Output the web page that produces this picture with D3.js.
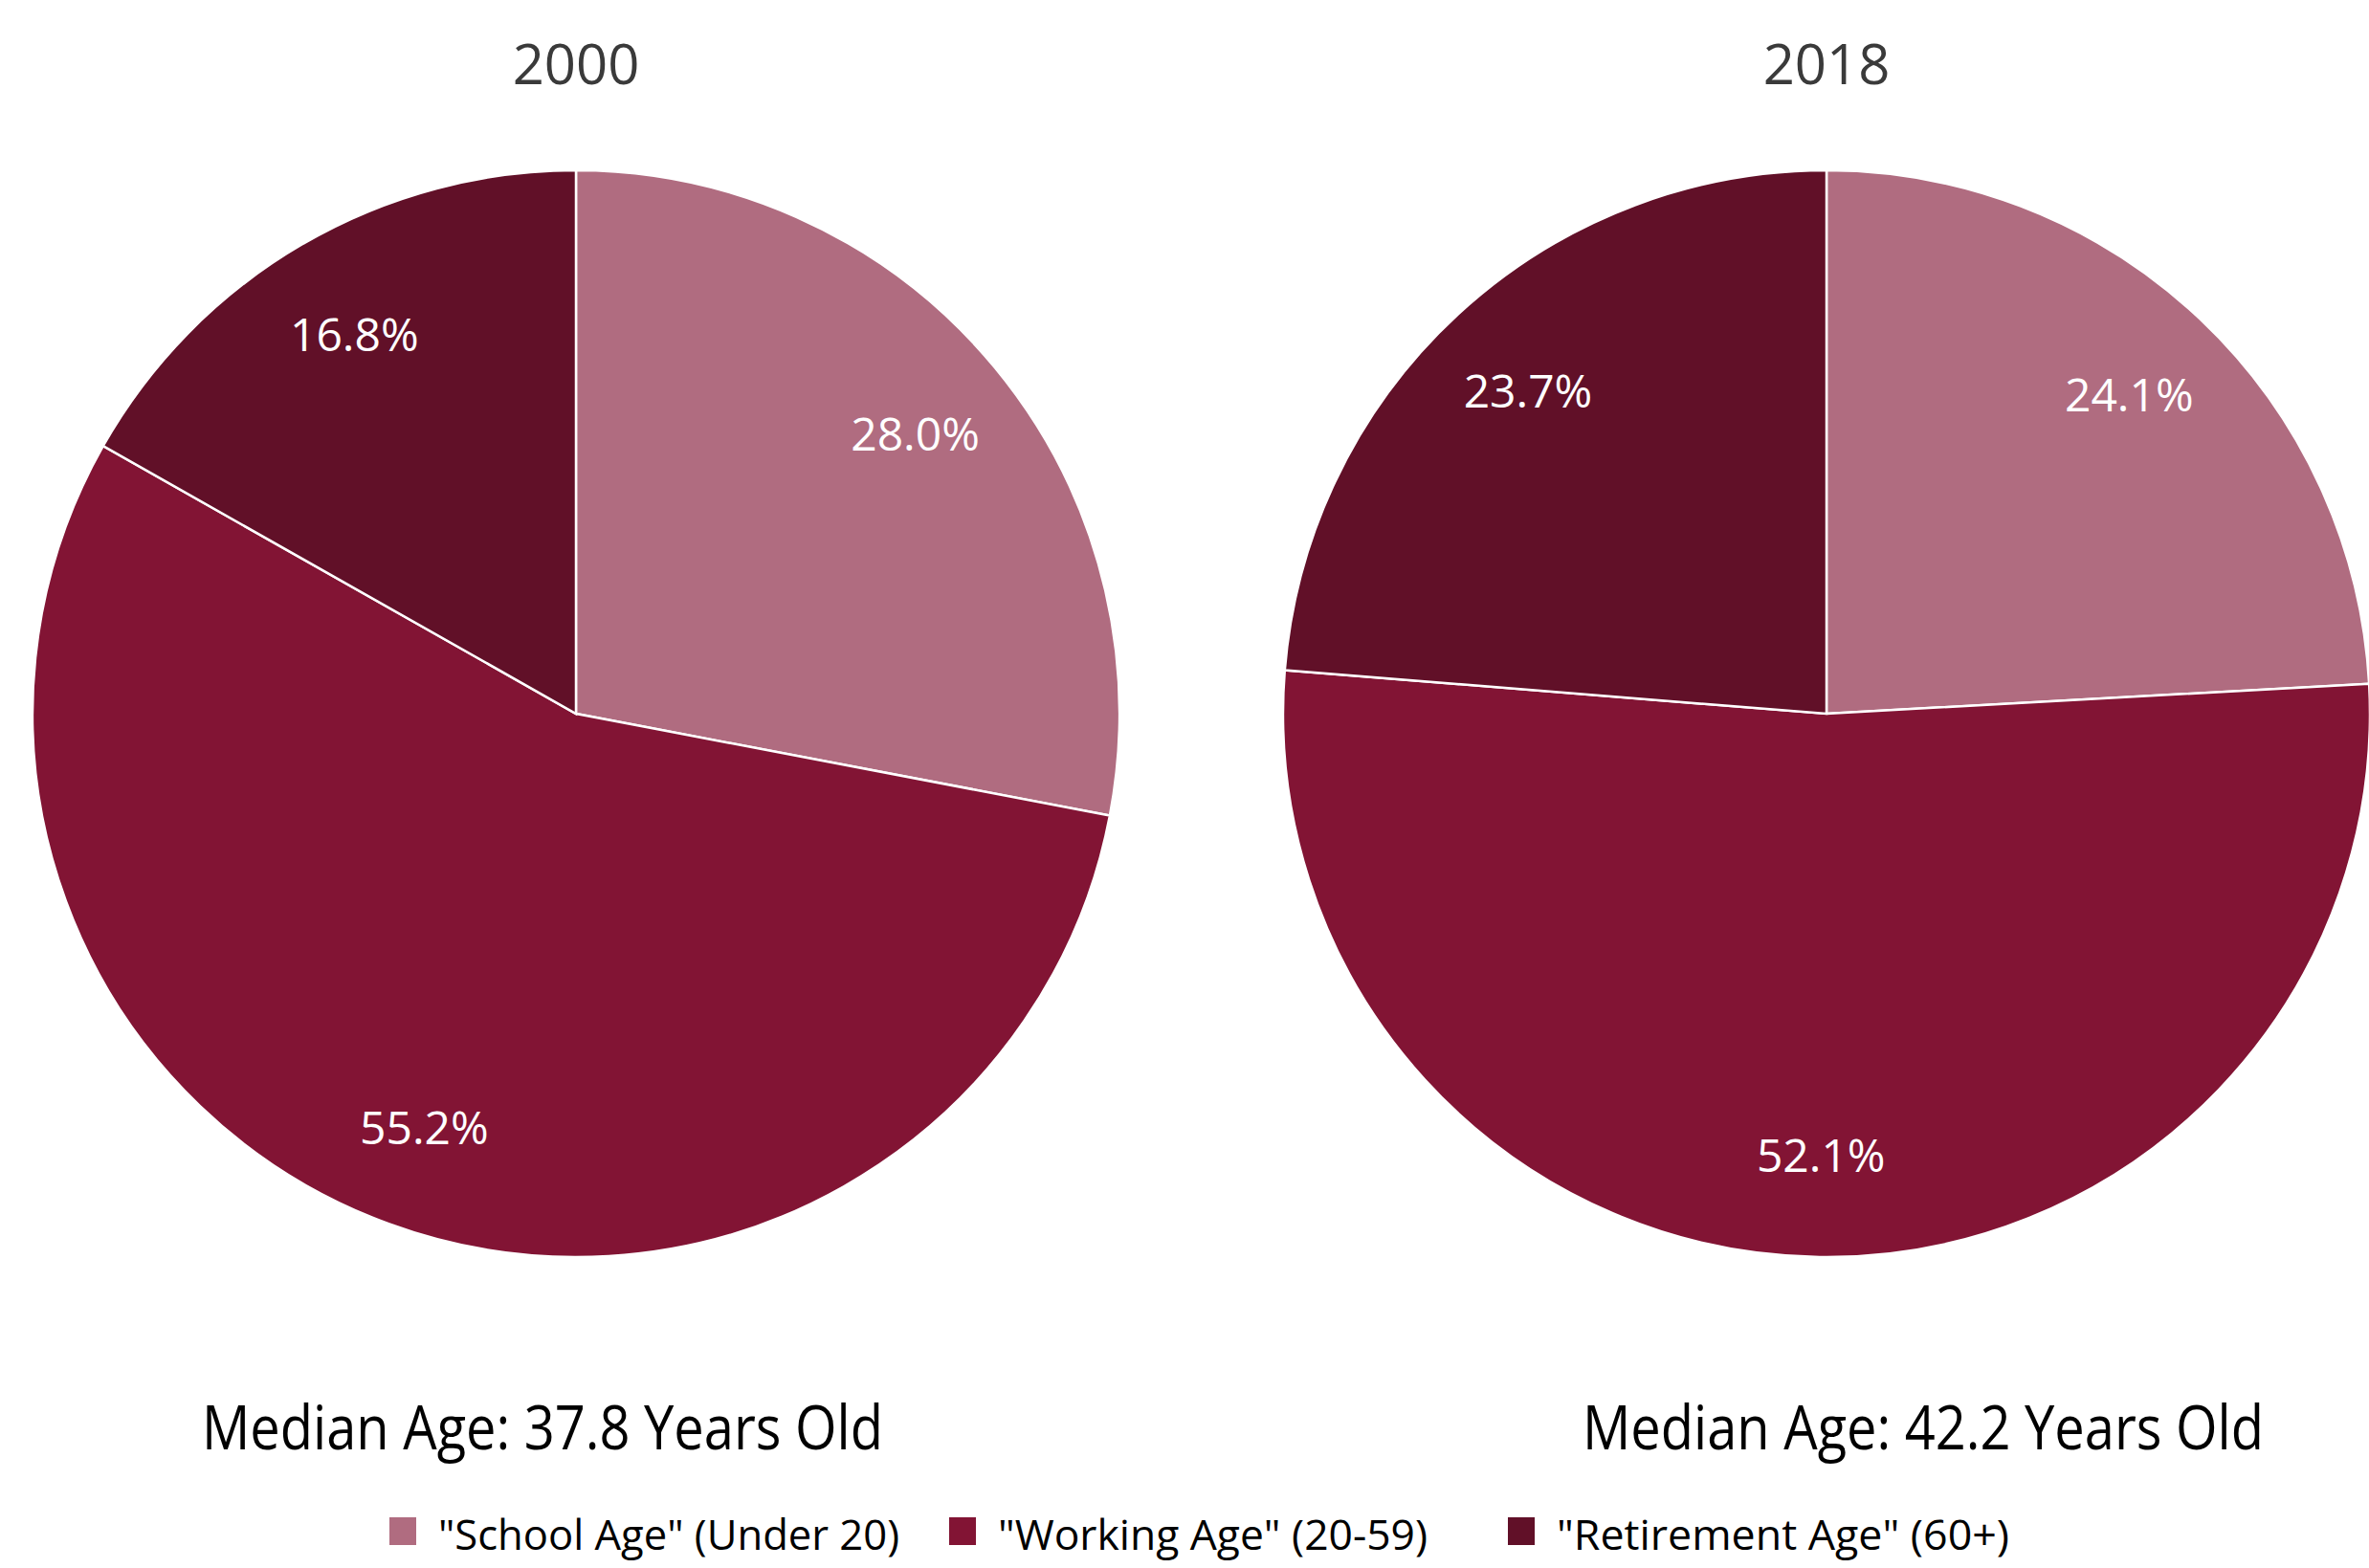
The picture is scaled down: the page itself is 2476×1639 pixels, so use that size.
<!DOCTYPE html>
<html>
<head>
<meta charset="utf-8">
<script src="https://cdn.jsdelivr.net/npm/d3@7"></script>
<style>
  body { margin: 0; background: #fff; }
  svg { display: block; font-family: "Open Sans", sans-serif; }
</style>
</head>
<body>
<svg id="chart" width="2476" height="1639"></svg>
<script>
const categories = ['"School Age" (Under 20)', '"Working Age" (20-59)', '"Retirement Age" (60+)'];
const years = ["2000", "2018"];
const shares2000 = [28.0, 55.2, 16.8];
const shares2018 = [24.1, 52.1, 23.7];
const medianAges = [37.8, 42.2];
const colors = ["#b06c80", "#821434", "#611028"];

const svg = d3.select("#chart");
const color = d3.scaleOrdinal().domain(categories).range(colors);

const radius = 568;
const centers = [602, 1909];
const centerY = 746;
const medianX = [567, 2010];

const pie = d3.pie().sort(null).value((d) => d.value);
const arc = d3.arc().innerRadius(0).outerRadius(radius);
const labelArc = d3.arc().innerRadius(radius * 0.81).outerRadius(radius * 0.81);

[shares2000, shares2018].forEach((shares, i) => {
  const data = shares.map((v, k) => ({ cat: categories[k], value: v }));
  const g = svg.append("g").attr("transform", `translate(${centers[i]},${centerY})`);

  g.selectAll("path")
    .data(pie(data))
    .enter()
    .append("path")
    .attr("d", arc)
    .style("fill", (d) => color(d.data.cat))
    .style("stroke", "#fff")
    .style("stroke-width", "2.5");

  g.selectAll("text")
    .data(pie(data))
    .enter()
    .append("text")
    .attr("transform", (d) => `translate(${labelArc.centroid(d)})`)
    .attr("text-anchor", "middle")
    .attr("dominant-baseline", "central")
    .style("fill", "#fff")
    .style("font-size", "48px")
    .text((d) => `${d.data.value.toFixed(1)}%`);

  svg.append("text")
    .attr("x", centers[i])
    .attr("y", 88)
    .attr("text-anchor", "middle")
    .style("fill", "#3a3a3a")
    .style("font-size", "58px")
    .text(years[i]);

  svg.append("text")
    .attr("x", medianX[i])
    .attr("y", 1515)
    .attr("text-anchor", "middle")
    .attr("textLength", 712)
    .attr("lengthAdjust", "spacingAndGlyphs")
    .style("fill", "#000")
    .style("font-size", "64px")
    .text(`Median Age: ${medianAges[i].toFixed(1)} Years Old`);
});

// legend
const legendX = [407, 992, 1576];
const legendW = [482, 449, 473];
const legend = svg.append("g");
categories.forEach((c, k) => {
  legend.append("rect")
    .attr("x", legendX[k])
    .attr("y", 1586)
    .attr("width", 28)
    .attr("height", 29)
    .style("fill", color(c));
  legend.append("text")
    .attr("x", legendX[k] + 51)
    .attr("y", 1620)
    .attr("textLength", legendW[k])
    .attr("lengthAdjust", "spacingAndGlyphs")
    .style("fill", "#000")
    .style("font-size", "44px")
    .text(c);
});
</script>
</body>
</html>
